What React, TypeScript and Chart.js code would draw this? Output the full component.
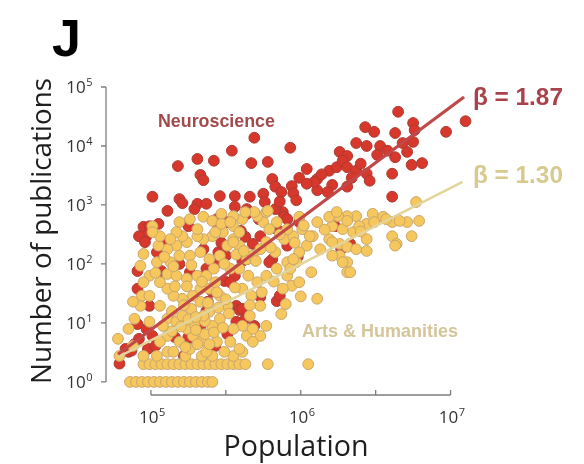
import React, { useEffect, useRef } from "react";
import { Chart, registerables } from "chart.js";

Chart.register(...registerables);

// Neuroscience: log10(population), log10(publications)
const neuroLogPop = [
  6.65, 7.10, 6.75, 6.43, 6.49, 6.63, 6.76, 6.97, 6.75, 5.69, 5.93, 6.37, 6.44, 6.53, 5.54, 6.26, 6.31, 6.51, 6.63, 6.71,
  5.18, 5.31, 5.42, 5.67, 5.78, 6.74, 6.81, 5.33, 5.35, 5.81, 5.83, 5.99, 6.04, 6.11, 6.19, 6.24, 6.28, 6.31, 6.37, 6.44,
  6.61, 6.31, 6.21, 6.11, 5.94, 5.95, 5.87, 5.75, 5.76, 6.61, 5.01, 5.19, 5.21, 5.46, 5.56, 5.66, 5.11, 5.31, 5.29, 5.37,
  5.56, 5.64, 5.88, 5.89, 5.25, 4.95, 4.99, 5.05, 4.97, 5.04, 5.11, 5.44, 5.45, 5.51, 5.63, 5.68, 5.73, 5.84, 5.81, 5.99,
  6.23, 5.91, 6.33, 5.07, 5.19, 4.91, 5.26, 4.91, 5.56, 5.49, 5.61, 5.45, 5.53, 5.73, 5.57, 5.59, 5.84, 5.38, 5.41, 4.91,
  4.97, 5.01, 4.89, 4.85, 4.79, 4.98, 5.16, 5.27, 5.33, 5.57, 5.69, 5.51, 4.87, 4.92, 4.96, 4.99, 4.83, 4.92, 5.37, 5.50,
  5.45, 5.35, 5.03, 5.25, 5.21, 5.37, 5.43, 5.22, 5.64, 5.79, 5.98, 5.61, 5.63, 5.86, 6.27, 6.46, 6.09, 5.83, 5.91, 5.64,
  6.04, 6.14, 6.34, 6.40, 6.58, 6.68, 5.47, 5.60, 5.72, 5.86, 5.97, 6.18,
];
const neuroLogPubs = [
  4.58, 4.42, 4.39, 4.32, 4.24, 4.22, 4.27, 4.24, 4.07, 4.14, 3.97, 4.05, 4.00, 4.00, 3.92, 3.90, 3.83, 3.85, 3.81, 3.90,
  3.66, 3.78, 3.75, 3.71, 3.73, 3.68, 3.71, 3.51, 3.42, 3.44, 3.31, 3.46, 3.61, 3.44, 3.58, 3.64, 3.75, 3.64, 3.58, 3.53,
  3.53, 3.31, 3.34, 3.25, 3.32, 3.20, 3.22, 3.19, 3.05, 3.14, 3.14, 3.10, 3.03, 3.15, 3.15, 3.14, 2.90, 3.02, 2.93, 3.02,
  2.97, 2.93, 2.88, 2.80, 2.64, 2.63, 2.64, 2.68, 2.47, 2.20, 2.37, 2.76, 2.64, 2.71, 2.46, 2.34, 2.47, 2.59, 2.08, 2.71,
  2.64, 2.31, 2.34, 1.88, 2.00, 1.88, 1.86, 1.58, 1.80, 1.71, 2.05, 2.03, 1.69, 1.44, 1.29, 1.22, 1.37, 1.36, 1.53, 0.98,
  0.90, 0.78, 0.64, 0.51, 0.31, 0.56, 0.76, 0.61, 0.93, 1.02, 0.95, 0.81, 0.53, 2.47, 2.37, 1.29, 0.56, 0.73, 1.92, 2.14,
  2.20, 2.25, 0.61, 0.76, 1.02, 1.20, 0.61, 0.44, 2.08, 2.03, 2.12, 1.24, 1.07, 1.46, 2.25, 3.41, 3.39, 2.93, 2.76, 2.85,
  3.36, 3.52, 3.46, 3.70, 3.92, 4.05, 2.36, 2.56, 2.76, 3.06, 3.08, 3.22,
];

// Arts & Humanities: log10(population), log10(publications)
const artsLogPop = [
  4.86, 4.90, 4.94, 4.98, 5.02, 5.06, 5.10, 5.14, 5.18, 5.22, 5.26, 5.30, 5.34, 5.38, 5.41,
  4.95, 4.99, 5.03, 5.07, 5.11, 5.15, 5.19, 5.23, 5.27, 5.31, 5.35, 5.39, 5.43, 5.47, 5.51, 5.55, 5.59, 5.63, 5.78, 6.05,
  4.79, 4.95, 5.04, 5.11, 5.23, 5.34, 5.41, 5.55, 5.61,
  6.77, 6.71, 6.79, 6.61, 6.61, 6.64, 6.74, 6.48, 6.55, 6.44, 6.37, 6.31, 6.25, 6.21, 6.28, 6.35, 6.19, 6.26, 6.31, 6.37,
  6.44, 6.26, 6.31, 6.31, 6.08, 6.04, 6.13, 5.99, 5.97, 6.07, 6.11, 5.87, 5.77, 5.73, 5.91, 5.94, 5.88, 5.99, 5.91, 5.84,
  5.77, 5.71, 5.65, 5.61, 5.67, 5.73, 5.66, 5.61, 5.64, 5.59, 5.53, 5.49, 5.44, 5.37, 5.33, 5.28, 5.24, 5.19, 5.15, 5.11,
  5.06, 4.99, 4.93, 4.94, 4.99, 5.06, 5.11, 5.17, 5.21, 5.27, 5.33, 5.39, 5.46, 5.51, 5.46, 5.39, 5.33, 5.28, 5.21, 5.15,
  5.11, 5.06, 5.11, 5.17, 5.24, 5.31, 5.37, 5.43, 5.53, 5.59, 5.64, 5.68, 5.73, 5.77, 5.83, 5.89, 5.95, 6.01, 5.91, 5.84,
  5.75, 5.71, 5.77, 5.69, 5.61, 5.55, 5.48, 5.41, 5.35, 5.31, 5.24, 5.17, 5.11, 5.05, 4.95, 4.93, 4.99, 4.95, 5.04, 5.13,
  5.19, 5.26, 5.33, 5.39, 5.46, 5.51, 5.55, 5.59, 5.19, 5.26, 5.35, 5.41, 5.47, 5.55, 5.59, 5.31, 5.21, 5.17, 5.13, 5.06,
  5.01, 6.11, 6.19, 6.24, 6.31, 6.39, 6.49, 6.57, 6.66, 4.78, 4.88, 5.68, 5.68, 5.55, 5.93, 5.95, 6.33, 6.28, 6.21, 5.63,
  5.78, 5.99, 5.79, 6.06, 6.44, 6.21, 6.63, 5.43, 5.47, 5.53, 5.55, 5.01, 5.26, 5.31, 5.36, 5.41, 5.29, 5.36, 5.23, 5.39,
  4.85, 4.89, 4.88,
  5.14, 5.20, 5.25, 5.30, 5.35, 5.42, 5.48, 5.14, 5.22, 5.30, 5.38, 5.45, 5.52, 5.08, 5.16, 5.24, 5.34, 5.44, 5.50, 5.56,
  5.03, 5.09, 5.15, 5.27, 5.42, 5.49, 5.57, 5.62, 5.70, 5.80, 5.86, 5.96, 6.02, 6.16, 6.00, 5.90, 5.82, 5.74, 5.66, 6.40,
];
const artsLogPubs = [
  0, 0, 0, 0, 0, 0, 0, 0, 0, 0, 0, 0, 0, 0, 0,
  0.30, 0.30, 0.30, 0.30, 0.30, 0.30, 0.30, 0.30, 0.30, 0.30, 0.30, 0.30, 0.30, 0.30, 0.30, 0.30, 0.30, 0.30, 0.30, 0.30,
  0.44, 0.44, 0.44, 0.51, 0.44, 0.44, 0.44, 0.44, 0.51,
  3.05, 2.71, 2.73, 2.71, 2.47, 2.34, 2.47, 2.85, 2.80, 2.68, 2.81, 2.81, 2.81, 2.64, 2.59, 2.54, 2.42, 2.34, 2.29, 2.25,
  2.22, 2.14, 2.03, 1.86, 2.47, 2.31, 2.25, 2.20, 2.03, 1.86, 1.41, 1.15, 0.95, 0.78, 1.80, 1.63, 1.58, 1.69, 2.03, 1.92,
  1.80, 1.69, 1.80, 1.58, 1.46, 1.29, 1.12, 0.95, 0.78, 0.56, 0.68, 0.51, 0.68, 0.51, 0.68, 0.78, 0.90, 0.68, 0.51, 0.78,
  0.68, 1.02, 1.29, 1.46, 1.46, 1.29, 1.07, 1.02, 1.12, 1.24, 1.36, 1.19, 1.07, 1.29, 1.46, 1.58, 1.58, 1.46, 1.41, 1.46,
  1.58, 1.69, 1.83, 1.80, 1.75, 1.80, 1.80, 1.69, 1.92, 1.92, 2.08, 2.14, 2.25, 2.37, 2.20, 2.42, 2.47, 2.59, 2.59, 2.71,
  2.71, 2.81, 2.88, 2.88, 2.76, 2.64, 2.54, 2.47, 2.42, 2.47, 2.37, 2.31, 2.25, 2.31, 2.17, 1.97, 1.80, 1.69, 2.03, 2.03,
  2.14, 2.14, 2.20, 2.08, 2.14, 2.31, 2.42, 2.31, 2.71, 2.76, 2.80, 2.73, 2.85, 2.81, 2.54, 2.59, 2.47, 2.54, 2.42, 2.47,
  2.64, 2.71, 2.80, 2.88, 2.73, 2.64, 2.71, 2.76, 2.73, 0.73, 0.61, 0.68, 0.90, 0.90, 1.92, 2.08, 1.86, 2.03, 2.14, 2.88,
  2.90, 2.80, 2.59, 2.47, 2.42, 2.37, 2.31, 2.54, 2.68, 2.71, 2.37, 2.54, 0.56, 0.64, 0.81, 0.95, 0.98, 1.03, 0.59, 0.64,
  0.90, 1.07, 1.36,
  0.86, 0.94, 1.06, 0.88, 1.12, 0.84, 0.92, 1.20, 1.30, 1.10, 1.34, 1.26, 1.16, 0.95, 1.62, 1.62, 1.70, 1.52, 1.40, 1.60,
  1.85, 2.12, 1.96, 1.98, 1.92, 2.00, 2.16, 2.22, 2.05, 2.28, 2.50, 2.36, 2.65, 2.58, 1.45, 1.32, 1.70, 1.52, 1.30, 2.55,
];

// Fitted scaling lines (endpoints), log10 units
const neuroFitLogPop = [4.78, 7.09];
const neuroFitLogPubs = [0.47, 4.83];
const artsFitLogPop = [4.78, 7.08];
const artsFitLogPubs = [0.42, 3.39];

const yTickExponents = [0, 1, 2, 3, 4, 5];
const xTickExponents = [5, 5.5, 6, 6.5, 7];
const xLabelExponents = [5, 6, 7];

const toPoints = (lx: number[], ly: number[]) =>
  lx.map((v, i) => ({ x: Math.pow(10, v), y: Math.pow(10, ly[i]) }));

function fitSize(ctx: CanvasRenderingContext2D, text: string, weight: string, family: string, target: number) {
  ctx.font = `${weight} 100px ${family}`;
  const w = ctx.measureText(text).width;
  return (100 * target) / w;
}

function drawPow(ctx: CanvasRenderingContext2D, exp: number, x: number, baseline: number, align: "right" | "center") {
  const fam = '"Open Sans", sans-serif';
  ctx.font = `17px ${fam}`;
  const w1 = ctx.measureText("10").width;
  ctx.font = `11px ${fam}`;
  const sup = String(exp);
  const w2 = ctx.measureText(sup).width;
  const total = w1 + w2;
  const start = align === "right" ? x - total : x - total / 2;
  ctx.textAlign = "left";
  ctx.textBaseline = "alphabetic";
  ctx.font = `17px ${fam}`;
  ctx.fillText("10", start, baseline);
  ctx.font = `11px ${fam}`;
  ctx.fillText(sup, start + w1 + 0.5, baseline - 7);
}

const decorPlugin = {
  id: "decor",
  beforeDatasetsDraw(chart: any) {
    const { ctx, chartArea } = chart;
    const xs = chart.scales.x;
    const ys = chart.scales.y;
    ctx.save();
    ctx.strokeStyle = "#7d7d7d";
    ctx.lineWidth = 1.3;
    const sx = chartArea.left;
    ctx.beginPath();
    ctx.moveTo(sx, ys.getPixelForValue(1));
    ctx.lineTo(sx, ys.getPixelForValue(1e5));
    yTickExponents.forEach((e) => {
      const py = ys.getPixelForValue(Math.pow(10, e));
      ctx.moveTo(sx - 5, py);
      ctx.lineTo(sx, py);
    });
    ctx.stroke();
    const sy = chartArea.bottom;
    ctx.beginPath();
    ctx.moveTo(xs.getPixelForValue(1e5), sy);
    ctx.lineTo(xs.getPixelForValue(1e7), sy);
    xTickExponents.forEach((e) => {
      const px = xs.getPixelForValue(Math.pow(10, e));
      ctx.moveTo(px, sy);
      ctx.lineTo(px, sy - 5);
    });
    ctx.stroke();
    ctx.fillStyle = "#333";
    yTickExponents.forEach((e) => {
      const py = ys.getPixelForValue(Math.pow(10, e));
      drawPow(ctx, e, sx - 14, py + 6, "right");
    });
    xLabelExponents.forEach((e) => {
      const px = xs.getPixelForValue(Math.pow(10, e));
      drawPow(ctx, e, px + 1, sy + 28, "center");
    });
    ctx.restore();
  },
  afterDraw(chart: any) {
    const { ctx } = chart;
    ctx.save();
    const titleFam = '"Open Sans", sans-serif';
    const boldFam = '"Liberation Sans", Arial, sans-serif';
    ctx.fillStyle = "#000";
    ctx.textAlign = "left";
    ctx.textBaseline = "alphabetic";
    ctx.font = `bold 52px ${boldFam}`;
    ctx.fillText("J", 52, 56);
    ctx.fillStyle = "#1e1e1e";
    let s = fitSize(ctx, "Population", "normal", titleFam, 145);
    ctx.font = `${s}px ${titleFam}`;
    ctx.textAlign = "center";
    ctx.fillText("Population", 296, 456);
    s = fitSize(ctx, "Number of publications", "normal", titleFam, 306);
    ctx.save();
    ctx.translate(51, 231);
    ctx.rotate(-Math.PI / 2);
    ctx.font = `${s}px ${titleFam}`;
    ctx.fillText("Number of publications", 0, 0);
    ctx.restore();
    ctx.textAlign = "left";
    ctx.fillStyle = "#a04a4c";
    s = fitSize(ctx, "Neuroscience", "bold", boldFam, 117);
    ctx.font = `bold ${s}px ${boldFam}`;
    ctx.fillText("Neuroscience", 158, 127);
    ctx.fillStyle = "#d4c59a";
    s = fitSize(ctx, "Arts & Humanities", "bold", boldFam, 156);
    ctx.font = `bold ${s}px ${boldFam}`;
    ctx.fillText("Arts & Humanities", 302, 337);
    ctx.fillStyle = "#a8434b";
    s = fitSize(ctx, "β = 1.87", "bold", boldFam, 90);
    ctx.font = `bold ${s}px ${boldFam}`;
    ctx.fillText("β = 1.87", 473, 105);
    ctx.fillStyle = "#d6ca8e";
    ctx.fillText("β = 1.30", 473, 183);
    ctx.restore();
  },
};

export default function App() {
  const canvasRef = useRef<HTMLCanvasElement | null>(null);

  useEffect(() => {
    const canvas = canvasRef.current;
    if (!canvas) return;
    const chart = new Chart(canvas, {
      type: "scatter",
      data: {
        datasets: [
          {
            label: "Neuroscience fit",
            data: toPoints(neuroFitLogPop, neuroFitLogPubs),
            showLine: true,
            borderColor: "#c04848",
            borderWidth: 3.2,
            pointRadius: 0,
            order: 0,
            clip: false,
          } as any,
          {
            label: "Arts fit",
            data: toPoints(artsFitLogPop, artsFitLogPubs),
            showLine: true,
            borderColor: "#e2d49b",
            borderWidth: 2.5,
            pointRadius: 0,
            order: 0,
            clip: false,
          } as any,
          {
            label: "Arts & Humanities",
            data: toPoints(artsLogPop, artsLogPubs),
            backgroundColor: "#f6c75c",
            borderColor: "#c9a66e",
            borderWidth: 1,
            pointRadius: 5.4,
            order: 1,
            clip: false,
          } as any,
          {
            label: "Neuroscience",
            data: toPoints(neuroLogPop, neuroLogPubs),
            backgroundColor: "#d8372b",
            borderColor: "#a93c34",
            borderWidth: 1,
            pointRadius: 5.4,
            order: 2,
            clip: false,
          } as any,
        ],
      },
      options: {
        responsive: false,
        animation: false,
        devicePixelRatio: 1,
        layout: { padding: { left: 106, right: 84, top: 87, bottom: 69 } },
        plugins: { legend: { display: false }, tooltip: { enabled: false } },
        scales: {
          x: { type: "logarithmic", min: Math.pow(10, 4.7), max: Math.pow(10, 7.33), display: false },
          y: { type: "logarithmic", min: Math.pow(10, -0.2), max: 1e5, display: false },
        },
      },
      plugins: [decorPlugin],
    });
    return () => chart.destroy();
  }, []);

  return (
    <div style={{ position: "fixed", left: 0, top: 0, width: 584, height: 464, background: "#fff" }}>
      <canvas ref={canvasRef} width={584} height={464} />
    </div>
  );
}
